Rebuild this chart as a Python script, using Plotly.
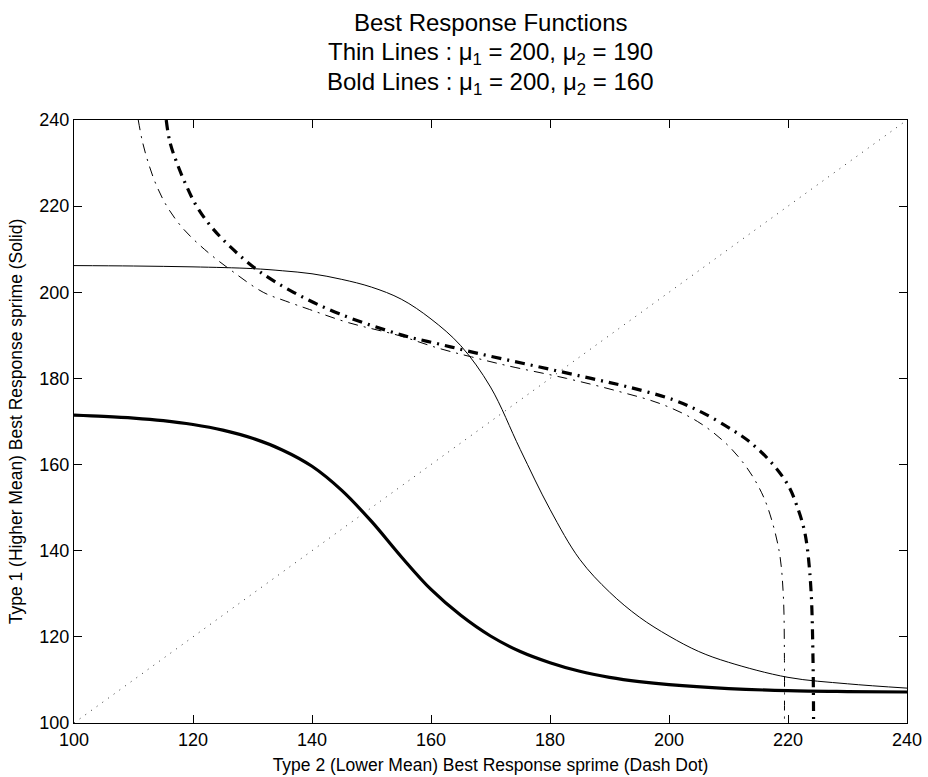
import plotly.graph_objects as go

# Thin solid: type 1 best response, mu1=200, mu2=190
s1_x = [100, 110, 120, 130, 135, 140, 145, 150, 155, 160, 165, 170, 175, 180, 185, 190,
        195, 200, 205, 210, 220, 230, 240]
s1_y = [206.2, 206.1, 205.9, 205.5, 205.0, 204.3, 203.0, 201.2, 198.4, 193.8, 187.6, 178.0,
        163.5, 149.6, 138.0, 130.4, 124.6, 120.2, 116.6, 114.1, 110.6, 109.1, 108.1]

# Thick solid: type 1 best response, mu1=200, mu2=160
s2_x = [100, 105, 110, 115, 120, 125, 130, 135, 140, 145, 150, 155, 160, 165, 170, 175,
        180, 185, 190, 195, 200, 210, 220, 230, 240]
s2_y = [171.5, 171.2, 170.8, 170.2, 169.3, 168.0, 166.1, 163.4, 159.6, 154.0, 146.8, 138.6,
        131.0, 125.0, 120.2, 116.6, 114.0, 112.0, 110.6, 109.6, 108.9, 108.0, 107.5, 107.3, 107.2]

# Thin dash-dot: type 2 best response, mu1=200, mu2=190
d1_x = [110.8, 111.5, 112.5, 113.8, 115.6, 118.2, 121.9, 126.5, 131.8, 135.5, 139.6, 146.0,
        154.5, 161.3, 166.8, 172.7, 182.8, 191.5, 198.8, 204.8, 209.5, 212.7, 215.0, 216.6,
        218.5, 219.2, 219.4, 219.4]
d1_y = [240, 235, 230, 225, 220, 215, 210, 205, 200, 198, 196, 193,
        190, 187, 185, 183, 180, 177, 174, 170, 165, 160, 155, 150,
        140, 130, 115, 100]

# Thick dash-dot: type 2 best response, mu1=200, mu2=160
d2_x = [115.5, 116.1, 117.3, 118.8, 120.6, 123.2, 126.7, 131.0, 136.9, 144.6, 155.3, 161.3,
        167.3, 173.8, 180.4, 186.9, 193.2, 200.8, 205.7, 210.7, 213.8, 217.5, 220.1, 221.6,
        222.7, 223.3, 223.9, 224.2, 224.3]
d2_y = [240, 235, 230, 225, 220, 215, 210, 205, 200, 195, 190, 188,
        186, 184, 182, 180, 178, 175, 172, 168, 165, 160, 155, 150,
        145, 140, 130, 115, 100]

# 45-degree reference line
diag = [100, 240]

x_ticks = [100, 120, 140, 160, 180, 200, 220, 240]
y_ticks = [100, 120, 140, 160, 180, 200, 220, 240]

title_lines = [
    "Best Response Functions",
    "Thin Lines : μ<sub>1</sub> = 200, μ<sub>2</sub> = 190",
    "Bold Lines : μ<sub>1</sub> = 200, μ<sub>2</sub> = 160",
]

fig = go.Figure()
fig.add_trace(go.Scatter(x=diag, y=diag, mode="lines",
                         line=dict(color="#333333", width=1, dash="1px,6px")))
fig.add_trace(go.Scatter(x=s1_x, y=s1_y, mode="lines",
                         line=dict(color="black", width=1, shape="spline", smoothing=1)))
fig.add_trace(go.Scatter(x=s2_x, y=s2_y, mode="lines",
                         line=dict(color="black", width=3.2, shape="spline", smoothing=1)))
fig.add_trace(go.Scatter(x=d1_x, y=d1_y, mode="lines",
                         line=dict(color="black", width=1, shape="spline", smoothing=1,
                                   dash="10px,6px,2px,6px")))
fig.add_trace(go.Scatter(x=d2_x, y=d2_y, mode="lines",
                         line=dict(color="black", width=3.2, shape="spline", smoothing=1,
                                   dash="10px,6px,2px,6px")))

font_family = "Liberation Sans, Arial, Helvetica, sans-serif"

title_y = [1.1625, 1.110, 1.060]
for txt, yy in zip(title_lines, title_y):
    fig.add_annotation(text=txt, x=0.5, xref="paper", xanchor="center",
                       y=yy, yref="paper", yanchor="middle", showarrow=False,
                       font=dict(size=24, family=font_family, color="black"))

fig.update_layout(
    width=928, height=777,
    margin=dict(l=74, r=21, t=120, b=54),
    paper_bgcolor="white", plot_bgcolor="white",
    showlegend=False,
    font=dict(family=font_family, color="black", size=16),
    xaxis=dict(
        range=[100, 240], tickvals=x_ticks, ticktext=[str(v) for v in x_ticks],
        showgrid=False, zeroline=False, showline=True, linecolor="black", linewidth=1,
        mirror="ticks", ticks="inside", ticklen=8, tickcolor="black",
        tickfont=dict(size=18), automargin=False,
        title=dict(text="Type 2 (Lower Mean) Best Response sprime (Dash Dot)",
                   font=dict(size=17.5), standoff=10),
    ),
    yaxis=dict(
        range=[100, 240], tickvals=y_ticks, ticktext=[str(v) for v in y_ticks],
        showgrid=False, zeroline=False, showline=True, linecolor="black", linewidth=1,
        mirror="ticks", ticks="inside", ticklen=8, tickcolor="black",
        tickfont=dict(size=18), automargin=False,
        title=dict(text="Type 1 (Higher Mean) Best Response sprime (Solid)",
                   font=dict(size=17.5), standoff=12),
    ),
)

fig.write_html("out.html")
